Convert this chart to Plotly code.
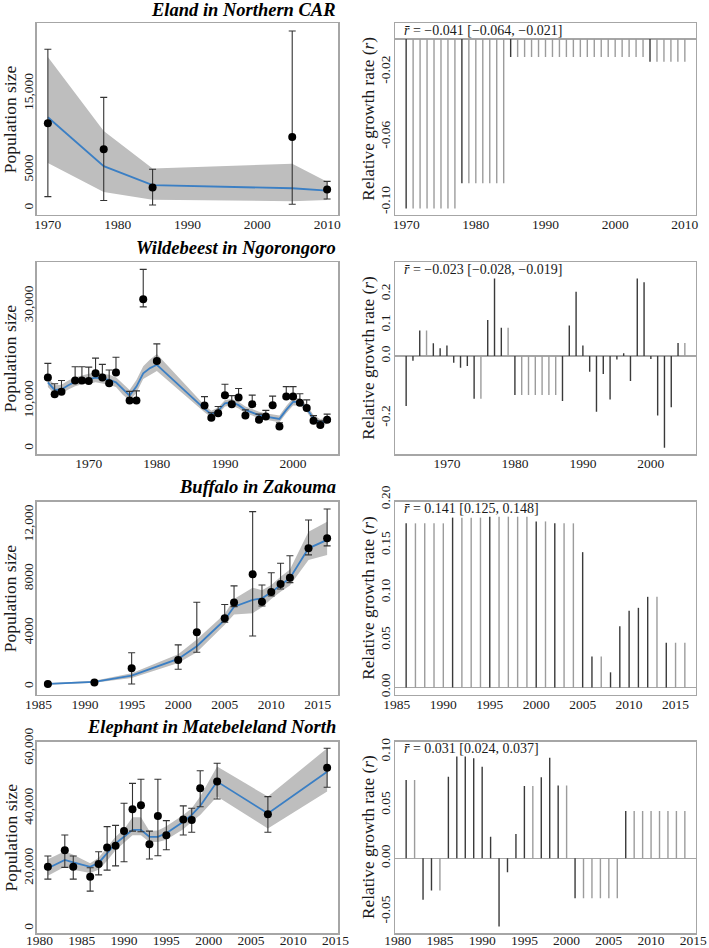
import plotly.graph_objects as go

W, H = 709, 948
FONT = "Liberation Serif, Times New Roman, Times, serif"

# ---------------- Data ----------------
# Eland in Northern CAR
eland_years = [1970, 1978, 1985, 2005, 2010]
eland_n = [11100, 7700, 2700, 9300, 2450]
eland_ci_hi = [20800, 14500, 5100, 23200, 3500]
eland_ci_lo = [1500, 1000, 400, 500, 1200]
eland_fit = [11900, 5500, 3000, 2600, 2300]
eland_band_hi = [19800, 10100, 5200, 5800, 3450]
eland_band_lo = [5900, 2100, 1100, 900, 1050]
eland_r_years = list(range(1970, 2011))
eland_r = [-0.104, -0.104, -0.104, -0.104, -0.104, -0.104, -0.104, -0.104,
           -0.0885, -0.0885, -0.0885, -0.0885, -0.0885, -0.0885, -0.0885,
           -0.011, -0.011, -0.011, -0.011, -0.011, -0.011, -0.011, -0.011, -0.011, -0.011,
           -0.011, -0.011, -0.011, -0.011, -0.011, -0.011, -0.011, -0.011, -0.011, -0.011,
           -0.014, -0.014, -0.014, -0.014, -0.014, -0.014]
eland_label = "<i>r̄</i> = −0.041 [−0.064, −0.021]"

# Wildebeest in Ngorongoro
wild_years = [1964, 1965, 1966, 1968, 1969, 1970, 1971, 1972, 1973, 1974, 1976, 1977, 1978, 1980,
              1987, 1988, 1989, 1990, 1991, 1992, 1993, 1994, 1995, 1996, 1997, 1998, 1999, 2000,
              2001, 2002, 2003, 2004, 2005]
wild_n = [14900, 11400, 11900, 14300, 14300, 14200, 15800, 14900, 13700, 16000, 10100, 10100, 31400, 18400,
          9000, 6450, 7400, 11200, 9300, 10700, 6900, 9300, 6000, 6700, 9100, 4600, 10900, 10900,
          9600, 8500, 5800, 4900, 6000]
wild_ci_hi = [17900, 13600, 14300, 17200, 17200, 17100, 19000, 17700, 16500, 19200, 12000, 12100, 37700, 22000,
              10900, 7500, 8800, 13500, 11100, 12600, 8100, 11200, 7200, 8000, 11000, 5400, 13000, 13000,
              11500, 10200, 6900, 5800, 7200]
wild_ci_lo = [14600, 11100, 11600, 14000, 14000, 13900, 15500, 14600, 13400, 15700, 9800, 9800, 29800, 18100,
              8700, 6150, 7100, 10900, 9000, 10400, 6600, 9000, 5700, 6400, 8800, 4300, 10600, 10600,
              9300, 8200, 5500, 4600, 5700]
wild_fit_years = [1964, 1965, 1966, 1967, 1968, 1969, 1970, 1971, 1972, 1973, 1974, 1975, 1976, 1977,
                  1978, 1979, 1980, 1987, 1988, 1989, 1990, 1991, 1992, 1993, 1994, 1995, 1996, 1997,
                  1998, 1999, 2000, 2001, 2002, 2003, 2004, 2005]
wild_fit = [13900, 12300, 12400, 13300, 14000, 14400, 14600, 14900, 14700, 14400, 13900, 12400, 11100, 13000,
            15800, 16900, 17600, 8300, 7200, 7900, 9500, 9700, 9100, 8100, 7600, 7000, 6700, 6500,
            6200, 8100, 9800, 9800, 8400, 6300, 5400, 5800]
wild_band_hi = [15000, 13300, 13400, 14300, 15000, 15400, 15700, 16000, 15800, 15500, 15000, 13600, 12300, 14400,
                17300, 18700, 19900, 9100, 7900, 8600, 10200, 10400, 9800, 8800, 8300, 7700, 7400, 7200,
                6900, 8900, 10600, 10600, 9200, 7000, 6100, 6600]
wild_band_lo = [12900, 11400, 11500, 12400, 13100, 13500, 13600, 13900, 13700, 13400, 12900, 11300, 10000, 11700,
                14600, 15500, 16300, 7600, 6500, 7200, 8800, 9000, 8400, 7400, 6900, 6300, 6000, 5800,
                5500, 7400, 9000, 9000, 7700, 5600, 4800, 5100]
wild_r_years = list(range(1964, 2006))
wild_r = [-0.161, -0.015, 0.082, 0.082, 0.041, 0.025, 0.034, -0.022, -0.038, -0.032, -0.138, -0.138,
          0.116, 0.250, 0.091, 0.091, -0.126, -0.126, -0.126, -0.126, -0.126, -0.126, -0.126,
          -0.145, 0.098, 0.207, 0.034, -0.051, -0.180, -0.058, -0.140, -0.011, 0.009, -0.081,
          0.250, 0.238, -0.010, -0.192, -0.296, -0.165, 0.042, 0.042]
wild_label = "<i>r̄</i> = −0.023 [−0.028, −0.019]"

# Buffalo in Zakouma
buff_years = [1986, 1991, 1995, 2000, 2002, 2005, 2006, 2008, 2009, 2010, 2011, 2012, 2014, 2016]
buff_n = [200, 300, 1370, 1980, 4040, 5080, 6240, 8340, 6310, 7030, 7620, 8090, 10270, 11020]
buff_ci_hi = [260, 380, 2520, 3100, 6260, 6100, 7480, 12990, 7550, 8460, 9160, 9720, 12370, 13190]
buff_ci_lo = [150, 240, 200, 1290, 2550, 4780, 5940, 3760, 5990, 6730, 7250, 7720, 9780, 10450]
buff_fit = [200, 350, 820, 2060, 3000, 4950, 5940, 6440, 6560, 7000, 7550, 8050, 10270, 10900]
buff_band_hi = [260, 430, 1000, 2400, 3500, 5400, 6500, 7350, 7150, 7550, 8150, 8700, 11500, 12250]
buff_band_lo = [150, 290, 650, 1750, 2550, 4600, 5350, 5450, 5900, 6500, 7050, 7500, 9400, 9780]
buff_r_years = list(range(1986, 2017))
buff_r = [0.173, 0.173, 0.173, 0.173, 0.173, 0.179, 0.179, 0.179, 0.179,
          0.180, 0.180, 0.180, 0.180, 0.180, 0.175, 0.175, 0.173, 0.173, 0.173,
          0.1426, 0.0326, 0.0326, 0.0159, 0.0644, 0.0807, 0.0839, 0.0955, 0.0955,
          0.0471, 0.0471, 0.0471]
buff_label = "<i>r̄</i> = 0.141 [0.125, 0.148]"

# Elephant in Matebeleland North
ele_years = [1981, 1983, 1984, 1986, 1987, 1988, 1989, 1990, 1991, 1992, 1993, 1994, 1995, 1997,
             1998, 1999, 2001, 2007, 2014]
ele_n = [20500, 26000, 20500, 17200, 21400, 26900, 27500, 32400, 39700, 41000, 28000, 37400, 31000, 36300,
         36100, 46700, 48900, 38000, 53500]
ele_ci_hi = [24100, 31100, 24100, 20200, 25500, 33900, 34300, 41700, 48300, 49700, 32400, 49700, 35900, 40800,
             40000, 52500, 55000, 43900, 60000]
ele_ci_lo = [16400, 20300, 16400, 12400, 17800, 19400, 20800, 22200, 32400, 32200, 23100, 24200, 26200, 31100,
             32000, 40500, 43100, 32000, 47000]
ele_fit = [20000, 22800, 22000, 20500, 21800, 25000, 28300, 30500, 32800, 32800, 30500, 30500, 31700, 35500,
           37800, 40800, 48900, 38300, 52200]
ele_band_hi = [23000, 25700, 24500, 21700, 23500, 27000, 30500, 33000, 37000, 37000, 32400, 32600, 34000, 37800,
               40000, 43900, 53900, 43900, 60000]
ele_band_lo = [17500, 20500, 19500, 18400, 19500, 22500, 26000, 28500, 31000, 31000, 28800, 28800, 29500, 33000,
               35500, 37800, 43900, 33300, 45600]
ele_r_years = list(range(1981, 2015))
ele_r = [0.0735, 0.0735, -0.039, -0.0303, -0.0303, 0.0766, 0.0954, 0.0954, 0.0938, 0.086,
         0.0203, -0.0641, -0.0131, 0.0228, 0.0679, 0.0679, 0.076, 0.0944, 0.0682, 0.0682,
         -0.0375, -0.0375, -0.0375, -0.0375, -0.0375, -0.0375,
         0.0444, 0.0444, 0.0444, 0.0444, 0.0444, 0.0444, 0.0444, 0.0444]
ele_label = "<i>r̄</i> = 0.031 [0.024, 0.037]"

titles = ["Eland in Northern CAR", "Wildebeest in Ngorongoro", "Buffalo in Zakouma",
          "Elephant in Matebeleland North"]

# ---------------- Styling / layout ----------------
BAND = "#bebebe"
LINE = "#3b7fc4"
DARK = "#3a3a3a"
LIGHT = "#9c9c9c"
BOX = "#a6a6a6"
TXT = "#1a1a1a"
TICK_SIZE = 13.5

xL = [36.7 / W, 338.3 / W]
xR = [395.0 / W, 696.0 / W]
rows_px = [(23.3, 215.0), (262.3, 454.3), (501.7, 695.0), (741.7, 933.3)]
title_y_px = [9.5, 247.5, 487.5, 726.5]
rlab_y_px = [31.0, 269.0, 508.5, 748.0]
xlab_standoff = [-4, -4, -4, -6]

panels = [
    dict(years=eland_years, n=eland_n, hi=eland_ci_hi, lo=eland_ci_lo, fy=eland_years, fit=eland_fit,
         bhi=eland_band_hi, blo=eland_band_lo, ry=eland_r_years, r=eland_r, lab=eland_label,
         xr=[1968.4, 2011.6], yr=[-900, 24200], yt=[0, 5000, 15000], ytt=["0", "5000", "15,000"],
         xt=[1970, 1980, 1990, 2000, 2010],
         rr=[-0.108, 0.00963], rt=[-0.10, -0.06, -0.02], rtt=["-0.10", "-0.06", "-0.02"]),
    dict(years=wild_years, n=wild_n, hi=wild_ci_hi, lo=wild_ci_lo, fy=wild_fit_years, fit=wild_fit,
         bhi=wild_band_hi, blo=wild_band_lo, ry=wild_r_years, r=wild_r, lab=wild_label,
         xr=[1962.36, 2006.64], yr=[-1260, 39200], yt=[0, 10000, 30000], ytt=["0", "10,000", "30,000"],
         xt=[1970, 1980, 1990, 2000],
         rr=[-0.317, 0.302], rt=[-0.2, 0.0, 0.1, 0.2], rtt=["-0.2", "0.0", "0.1", "0.2"]),
    dict(years=buff_years, n=buff_n, hi=buff_ci_hi, lo=buff_ci_lo, fy=buff_years, fit=buff_fit,
         bhi=buff_band_hi, blo=buff_band_lo, ry=buff_r_years, r=buff_r, lab=buff_label,
         xr=[1984.8, 2017.2], yr=[-620, 13730], yt=[0, 4000, 8000, 12000], ytt=["0", "4000", "8000", "12,000"],
         xt=[1985, 1990, 1995, 2000, 2005, 2010, 2015],
         rr=[-0.008, 0.1958], rt=[0.0, 0.05, 0.10, 0.15, 0.20], rtt=["0.00", "0.05", "0.10", "0.15", "0.20"]),
    dict(years=ele_years, n=ele_n, hi=ele_ci_hi, lo=ele_ci_lo, fy=ele_years, fit=ele_fit,
         bhi=ele_band_hi, blo=ele_band_lo, ry=ele_r_years, r=ele_r, lab=ele_label,
         xr=[1979.68, 2015.32], yr=[-1670, 62200], yt=[0, 20000, 40000, 60000],
         ytt=["0", "20,000", "40,000", "60,000"],
         xt=[1980, 1985, 1990, 1995, 2000, 2005, 2010, 2015],
         rr=[-0.0704, 0.1094], rt=[-0.05, 0.0, 0.05, 0.10], rtt=["-0.05", "0.00", "0.05", "0.10"]),
]

fig = go.Figure()
layout = dict(width=W, height=H, autosize=False,
              margin=dict(l=0, r=0, t=0, b=0, pad=0, autoexpand=False),
              paper_bgcolor="white", plot_bgcolor="white", showlegend=False,
              font=dict(family=FONT, color=TXT, size=TICK_SIZE))
annotations = []


def axis_common(dom, rng, anchor, tickvals, ticktext, angle=0, standoff=0):
    return dict(domain=dom, range=rng, anchor=anchor, showgrid=False, zeroline=False,
                showline=True, mirror=True, linecolor=BOX, linewidth=1.4, ticks="",
                automargin=False, tickvals=tickvals, ticktext=ticktext, tickangle=angle,
                ticklabelstandoff=standoff,
                tickfont=dict(family=FONT, size=TICK_SIZE, color=TXT), fixedrange=True)


for i, p in enumerate(panels):
    top, bot = rows_px[i]
    ydom = [1 - bot / H, 1 - top / H]
    li, ri = 2 * i + 1, 2 * i + 2
    xa_l, ya_l = f"x{li}", f"y{li}"
    xa_r, ya_r = f"x{ri}", f"y{ri}"

    # left: band, fitted line, observations with CIs
    fig.add_trace(go.Scatter(x=p["fy"] + p["fy"][::-1], y=p["bhi"] + p["blo"][::-1], fill="toself",
                             fillcolor=BAND, line=dict(width=0), mode="lines", hoverinfo="skip",
                             xaxis=xa_l, yaxis=ya_l))
    fig.add_trace(go.Scatter(x=p["fy"], y=p["fit"], mode="lines", line=dict(color=LINE, width=1.8),
                             xaxis=xa_l, yaxis=ya_l))
    fig.add_trace(go.Scatter(
        x=p["years"], y=p["n"], mode="markers", marker=dict(color="black", size=8),
        error_y=dict(type="data", symmetric=False,
                     array=[h - v for h, v in zip(p["hi"], p["n"])],
                     arrayminus=[v - l for l, v in zip(p["lo"], p["n"])],
                     color="#333333", thickness=1.1, width=3.5),
        xaxis=xa_l, yaxis=ya_l))

    # right: yearly growth-rate spikes (dark = observed year, light = interpolated)
    obs = set(p["years"][:-1])
    for dark in (True, False):
        xs, ys = [], []
        for yr, rv in zip(p["ry"], p["r"]):
            if (yr in obs) == dark:
                xs += [yr, yr, None]
                ys += [0, rv, None]
        fig.add_trace(go.Scatter(x=xs, y=ys, mode="lines",
                                 line=dict(color=DARK if dark else LIGHT, width=1.4),
                                 xaxis=xa_r, yaxis=ya_r))

    sx = xlab_standoff[i]
    layout[f"xaxis{li}"] = axis_common(xL, p["xr"], ya_l, p["xt"], [str(v) for v in p["xt"]], 0, sx)
    layout[f"yaxis{li}"] = axis_common(ydom, p["yr"], xa_l, p["yt"], p["ytt"], -90, -3)
    layout[f"xaxis{ri}"] = axis_common(xR, p["xr"], ya_r, p["xt"], [str(v) for v in p["xt"]], 0, sx)
    ya = axis_common(ydom, p["rr"], xa_r, p["rt"], p["rtt"], -90, -2)
    ya.update(zeroline=True, zerolinecolor=BOX, zerolinewidth=1.4)
    layout[f"yaxis{ri}"] = ya

    # growth-rate tick labels that lie just beyond the top of the box (drawn like R does)
    r_lo, r_hi = p["rr"]
    for tv, tt in zip(p["rt"], p["rtt"]):
        if tv > r_hi:
            frac = (tv - r_lo) / (r_hi - r_lo)
            ypx = bot - frac * (bot - top)
            annotations.append(dict(text=tt, x=385.5 / W, y=1 - ypx / H, xref="paper", yref="paper",
                                    textangle=-90, xanchor="center", yanchor="middle", showarrow=False,
                                    font=dict(family=FONT, size=TICK_SIZE, color=TXT)))

    cy = 1 - (top + bot) / 2 / H
    annotations.append(dict(text=f"<b><i>{titles[i]}</i></b>", x=338.3 / W, y=1 - title_y_px[i] / H,
                            xref="paper", yref="paper", xanchor="right", yanchor="middle",
                            showarrow=False, font=dict(family=FONT, size=18.5, color="black")))
    annotations.append(dict(text="Population size", x=10 / W, y=cy, xref="paper", yref="paper",
                            textangle=-90, xanchor="center", yanchor="middle", showarrow=False,
                            font=dict(family=FONT, size=17.5, color=TXT)))
    annotations.append(dict(text="Relative growth rate (<i>r</i>)", x=368.5 / W, y=cy, xref="paper",
                            yref="paper", textangle=-90, xanchor="center", yanchor="middle",
                            showarrow=False, font=dict(family=FONT, size=17.3, color=TXT)))
    annotations.append(dict(text=p["lab"], x=401.7 / W, y=1 - rlab_y_px[i] / H, xref="paper",
                            yref="paper", xanchor="left", yanchor="middle", showarrow=False,
                            font=dict(family=FONT, size=14, color=TXT)))

layout["annotations"] = annotations
fig.update_layout(**layout)
fig.write_html(
    "out.html",
    config={"displayModeBar": False, "staticPlot": True},
    post_script="document.body.style.margin='0px';document.body.style.padding='0px';"
                "document.documentElement.style.overflow='hidden';",
)
